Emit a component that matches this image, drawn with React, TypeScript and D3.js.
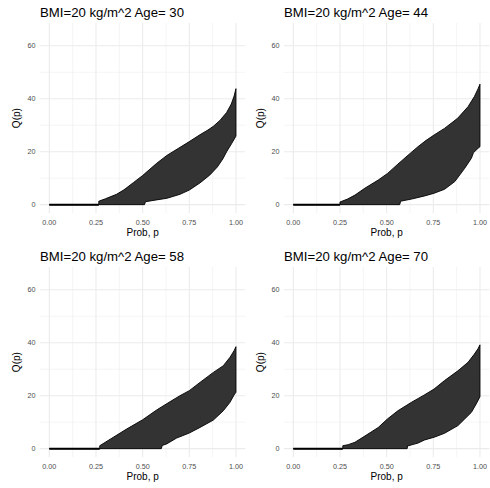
import React from "react";
import * as d3 from "d3";

type Pt = [number, number];

const ages = [30, 44, 58, 70];
const titlePrefix = "BMI=20 kg/m^2 Age= ";
const xTicks = [0, 0.25, 0.5, 0.75, 1];
const xTickLabels = ["0.00", "0.25", "0.50", "0.75", "1.00"];
const xMinor = [0.125, 0.375, 0.625, 0.875];
const yTicks = [0, 20, 40, 60];
const yMinor = [10, 30, 50];

const upper30: Pt[] = [[0,0],[0.265,0],[0.265,1.3],[0.30,2.2],[0.36,3.9],[0.40,5.6],[0.45,8.3],[0.50,11],[0.575,15.6],[0.63,18.6],[0.69,21.2],[0.75,23.8],[0.807,26.4],[0.85,28.2],[0.879,29.6],[0.914,31.8],[0.95,34.8],[0.975,38],[0.99,41],[1.0,43.8]];
const lower30: Pt[] = [[0,0],[0.51,0],[0.515,1.1],[0.575,1.8],[0.63,2.4],[0.70,3.9],[0.75,5.5],[0.807,8.2],[0.86,11.2],[0.90,14.2],[0.93,17.3],[0.95,20],[0.977,23.1],[1.0,25.9]];
const upper44: Pt[] = [[0,0],[0.25,0],[0.25,1],[0.29,2.1],[0.33,3.6],[0.383,6.2],[0.455,9.3],[0.505,11.8],[0.56,15.3],[0.615,18.7],[0.668,21.9],[0.71,24.2],[0.754,26.3],[0.81,28.8],[0.88,32.6],[0.936,37],[0.97,40.8],[0.99,43.8],[1.0,45.5]];
const lower44: Pt[] = [[0,0],[0.57,0],[0.575,1.3],[0.633,2.1],[0.704,3.3],[0.754,4.3],[0.81,5.8],[0.865,8.7],[0.918,13.7],[0.954,17.5],[0.965,19.6],[0.99,21.3],[1.0,21.9]];
const upper58: Pt[] = [[0,0],[0.27,0],[0.27,1.1],[0.343,4.3],[0.414,7.4],[0.5,10.9],[0.575,14.6],[0.646,17.7],[0.70,20],[0.75,21.9],[0.807,25],[0.879,28.8],[0.932,31.3],[0.968,34.5],[0.99,37],[1.0,38.5]];
const lower58: Pt[] = [[0,0],[0.60,0],[0.605,1.2],[0.629,1.8],[0.682,4],[0.75,5.9],[0.807,8],[0.879,10.8],[0.932,14.3],[0.968,17.5],[0.99,20.3],[1.0,21.3]];
const upper70: Pt[] = [[0,0],[0.265,0],[0.265,1.1],[0.294,1.5],[0.33,2.4],[0.40,5.5],[0.455,8],[0.504,11.2],[0.56,14.3],[0.633,17.5],[0.70,20.2],[0.754,22.5],[0.81,25.7],[0.882,29.4],[0.936,32.6],[0.97,35.7],[0.99,37.8],[1.0,39.2]];
const lower70: Pt[] = [[0,0],[0.61,0],[0.612,1],[0.668,2.1],[0.704,3.3],[0.754,4.3],[0.81,5.8],[0.882,8.7],[0.918,11.2],[0.954,13.7],[0.98,16.9],[1.0,19.6]];

const uppers = [upper30, upper44, upper58, upper70];
const lowers = [lower30, lower44, lower58, lower70];

const W = 490;
const H = 488;
const font = "Liberation Sans, Arial, Helvetica, sans-serif";

function Panel({ idx }: { idx: number }) {
  const col = idx % 2;
  const row = Math.floor(idx / 2);
  const ox = col * 244;
  const oy = row * 244;
  const x = d3.scaleLinear().domain([-0.05, 1.05]).range([40, 245.3]);
  const y = d3.scaleLinear().domain([-3.27, 68.6]).range([213.3, 23]);
  const up = uppers[idx];
  const lo = lowers[idx];
  const poly = [...up, ...lo.slice().reverse()];
  const line = d3.line<Pt>().x((d) => x(d[0])).y((d) => y(d[1]));
  const zeroEnd = up.filter((d) => d[1] === 0).reduce((m, d) => Math.max(m, d[0]), 0);
  const [x0, x1] = x.range();
  const [y0, y1] = y.range();
  return (
    <g transform={`translate(${ox},${oy})`}>
      {xMinor.map((v) => (
        <line key={"xm" + v} x1={x(v)} x2={x(v)} y1={y0} y2={y1} stroke="#EBEBEB" strokeWidth={0.55} />
      ))}
      {yMinor.map((v) => (
        <line key={"ym" + v} x1={x0} x2={x1} y1={y(v)} y2={y(v)} stroke="#EBEBEB" strokeWidth={0.55} />
      ))}
      {xTicks.map((v) => (
        <line key={"xM" + v} x1={x(v)} x2={x(v)} y1={y0} y2={y1} stroke="#EBEBEB" strokeWidth={1.07} />
      ))}
      {yTicks.map((v) => (
        <line key={"yM" + v} x1={x0} x2={x1} y1={y(v)} y2={y(v)} stroke="#EBEBEB" strokeWidth={1.07} />
      ))}
      <path d={line(poly) + "Z"} fill="#333333" stroke="#000" strokeWidth={0.9} strokeLinejoin="round" />
      <line x1={x(0)} x2={x(zeroEnd)} y1={y(0)} y2={y(0)} stroke="#000" strokeWidth={2} />
      {yTicks.map((v) => (
        <text key={"yl" + v} x={35.5} y={y(v)} dy="0.35em" textAnchor="end" fontSize={7.2} fill="#4D4D4D" fontFamily={font}>
          {v}
        </text>
      ))}
      {xTicks.map((v, i) => (
        <text key={"xl" + v} x={x(v)} y={224.5} textAnchor="middle" fontSize={7.2} fill="#4D4D4D" fontFamily={font}>
          {xTickLabels[i]}
        </text>
      ))}
      <text x={(x0 + x1) / 2} y={236} textAnchor="middle" fontSize={10} fill="#000" fontFamily={font}>
        Prob, p
      </text>
      <text transform={`translate(19.5,${(y0 + y1) / 2}) rotate(-90)`} textAnchor="middle" fontSize={10} fill="#000" fontFamily={font}>
        Q(p)
      </text>
      <text x={40} y={16.5} fontSize={13.2} fill="#000" fontFamily={font}>
        {titlePrefix + ages[idx]}
      </text>
    </g>
  );
}

export default function App() {
  return (
    <svg width={W} height={H} style={{ display: "block", background: "#fff", position: "absolute", left: 0, top: 0 }}>
      {ages.map((_, i) => (
        <Panel key={i} idx={i} />
      ))}
    </svg>
  );
}
